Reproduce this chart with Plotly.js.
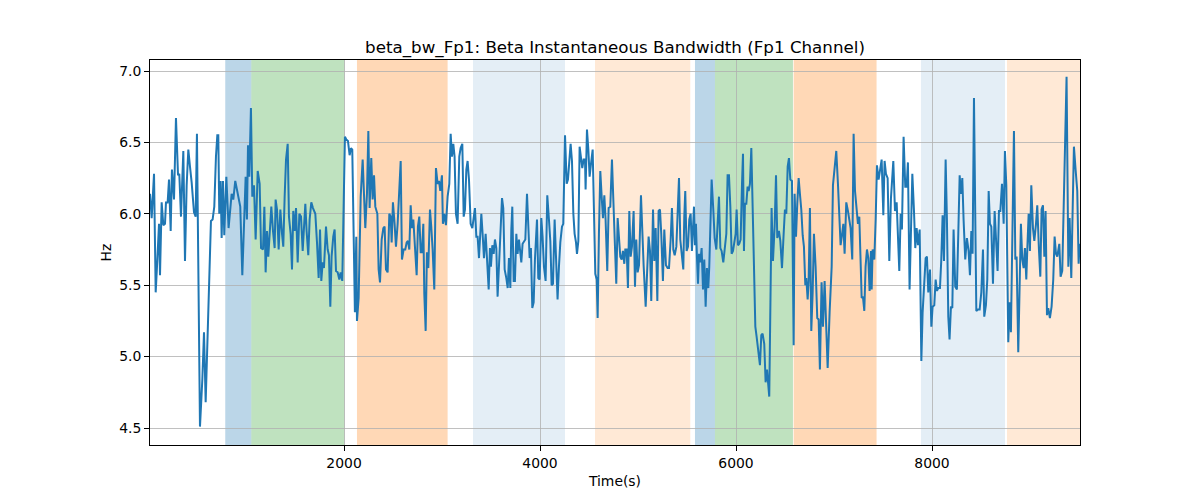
<!DOCTYPE html>
<html>
<head>
<meta charset="utf-8">
<script src="https://cdn.plot.ly/plotly-3.0.1.min.js"></script>
<style>
  body { margin: 0; background: #fff; }
  #plot { width: 1200px; height: 500px; }
</style>
</head>
<body>
<div id="plot"></div>
<script>
// time (s) and beta bandwidth (Hz)
const timeSec = [
  20, 37, 61, 78, 95, 112, 122, 139, 156, 173, 183, 200, 214, 231, 244, 265, 285, 306, 319, 336,
  360, 377, 394, 411, 428, 445, 469, 486, 499, 513, 530, 554, 571, 588, 615, 642, 659, 676, 693, 707,
  717, 727, 741, 751, 765, 778, 799, 822, 853, 870, 890, 921, 941, 962, 982, 996, 1009, 1020, 1033, 1050,
  1064, 1081, 1098, 1119, 1139, 1153, 1173, 1187, 1200, 1214, 1227, 1241, 1258, 1275, 1292, 1302, 1316, 1333, 1350, 1367,
  1380, 1394, 1408, 1425, 1438, 1455, 1469, 1482, 1496, 1510, 1527, 1544, 1561, 1578, 1591, 1605, 1618, 1635, 1649, 1666,
  1683, 1707, 1724, 1741, 1755, 1768, 1782, 1795, 1816, 1833, 1846, 1860, 1873, 1890, 1904, 1918, 1935, 1952, 1965, 1982,
  2009, 2023, 2040, 2057, 2071, 2084, 2111, 2125, 2132, 2149, 2170, 2190, 2217, 2234, 2248, 2261, 2278, 2292, 2306, 2319,
  2340, 2353, 2367, 2384, 2401, 2414, 2428, 2445, 2462, 2476, 2486, 2499, 2516, 2530, 2547, 2564, 2578, 2591, 2608, 2625,
  2639, 2652, 2666, 2680, 2693, 2707, 2724, 2741, 2754, 2768, 2782, 2795, 2809, 2819, 2833, 2846, 2860, 2877, 2890, 2904,
  2921, 2938, 2955, 2969, 2982, 2999, 3009, 3023, 3040, 3057, 3074, 3088, 3101, 3115, 3128, 3142, 3159, 3176, 3190, 3207,
  3221, 3234, 3248, 3261, 3275, 3292, 3309, 3323, 3336, 3350, 3363, 3377, 3387, 3401, 3414, 3428, 3445, 3462, 3476, 3489,
  3499, 3513, 3527, 3540, 3554, 3567, 3584, 3598, 3612, 3625, 3639, 3656, 3670, 3683, 3697, 3707, 3717, 3731, 3744, 3758,
  3771, 3785, 3799, 3809, 3822, 3836, 3850, 3867, 3880, 3894, 3907, 3921, 3935, 3948, 3969, 3982, 3996, 4013, 4026, 4040,
  4057, 4074, 4091, 4105, 4118, 4132, 4149, 4162, 4179, 4193, 4207, 4224, 4237, 4255, 4272, 4285, 4299, 4312, 4326, 4340,
  4353, 4367, 4377, 4391, 4404, 4418, 4431, 4445, 4459, 4465, 4479, 4493, 4506, 4520, 4537, 4550, 4564, 4578, 4588, 4601,
  4615, 4629, 4642, 4656, 4669, 4686, 4700, 4717, 4734, 4748, 4761, 4778, 4792, 4806, 4819, 4833, 4846, 4860, 4870, 4884,
  4897, 4911, 4925, 4938, 4955, 4969, 4982, 4996, 5010, 5030, 5044, 5057, 5078, 5095, 5108, 5122, 5135, 5153, 5166, 5180,
  5197, 5210, 5224, 5237, 5254, 5268, 5285, 5302, 5316, 5333, 5346, 5360, 5374, 5391, 5404, 5418, 5431, 5448, 5462, 5472,
  5482, 5496, 5510, 5523, 5537, 5550, 5561, 5571, 5581, 5591, 5601, 5612, 5622, 5635, 5649, 5663, 5676, 5690, 5703, 5717,
  5727, 5738, 5751, 5768, 5782, 5799, 5812, 5826, 5840, 5853, 5870, 5887, 5901, 5914, 5928, 5942, 5955, 5969, 5982, 5996,
  6006, 6020, 6033, 6047, 6061, 6071, 6081, 6091, 6105, 6118, 6129, 6142, 6156, 6197, 6210, 6227, 6244, 6258, 6271, 6288,
  6302, 6316, 6329, 6339, 6363, 6377, 6394, 6408, 6421, 6438, 6452, 6469, 6486, 6499, 6513, 6527, 6540, 6554, 6571, 6588,
  6598, 6612, 6625, 6639, 6652, 6666, 6680, 6693, 6707, 6717, 6731, 6741, 6754, 6768, 6782, 6795, 6812, 6829, 6843, 6856,
  6873, 6887, 6904, 6921, 6935, 6955, 6976, 6989, 7006, 7023, 7040, 7054, 7067, 7081, 7095, 7108, 7125, 7142, 7156, 7169,
  7186, 7200, 7214, 7231, 7244, 7258, 7271, 7282, 7295, 7309, 7322, 7336, 7350, 7363, 7377, 7384, 7394, 7411, 7425, 7438,
  7455, 7469, 7486, 7503, 7516, 7530, 7547, 7564, 7581, 7605, 7622, 7639, 7652, 7666, 7680, 7693, 7710, 7727, 7741, 7754,
  7771, 7785, 7799, 7816, 7829, 7843, 7857, 7874, 7891, 7904, 7918, 7935, 7948, 7962, 7979, 7993, 8006, 8023, 8037, 8050,
  8064, 8081, 8094, 8108, 8122, 8139, 8152, 8166, 8179, 8193, 8207, 8220, 8237, 8254, 8268, 8282, 8295, 8309, 8322, 8339,
  8356, 8373, 8387, 8401, 8414, 8428, 8452, 8469, 8486, 8503, 8520, 8533, 8550, 8564, 8578, 8591, 8605, 8622, 8639, 8656,
  8669, 8683, 8697, 8714, 8731, 8744, 8758, 8778, 8792, 8805, 8822, 8836, 8850, 8863, 8880, 8894, 8907, 8921, 8935, 8948,
  8962, 8972, 8986, 8999, 9013, 9030, 9044, 9061, 9074, 9091, 9105, 9118, 9132, 9146, 9159, 9173, 9186, 9203, 9220, 9237,
  9251, 9265, 9278, 9299, 9312, 9329, 9373, 9391, 9404, 9421, 9435, 9448, 9465, 9482, 9496, 9506
];

const betaBw = [
  6.14, 5.97, 6.28, 5.45, 5.68, 5.93, 5.57, 6.08, 5.92, 5.93, 6.08, 6.08, 6.24, 5.88, 6.31, 6.10, 6.67, 6.27, 6.28, 5.98,
  6.44, 5.67, 6.20, 6.45, 6.33, 6.22, 6.01, 5.98, 6.56, 5.56, 4.51, 4.84, 5.17, 4.68, 5.26, 5.95, 5.96, 6.05, 6.40, 6.55,
  6.55, 6.00, 6.23, 5.83, 6.23, 5.85, 6.26, 5.90, 6.14, 6.10, 6.23, 6.12, 6.05, 5.57, 6.03, 6.26, 5.96, 6.48, 6.26, 6.74,
  6.12, 6.20, 5.82, 6.30, 6.21, 5.76, 5.75, 6.05, 5.59, 5.88, 5.70, 5.89, 6.05, 5.88, 5.76, 6.10, 6.03, 5.75, 6.03, 5.86,
  5.77, 6.12, 6.38, 6.49, 5.98, 5.86, 5.61, 6.02, 5.88, 6.04, 5.66, 6.00, 5.98, 5.74, 5.91, 6.07, 5.88, 5.71, 5.96, 6.08,
  6.04, 6.00, 5.80, 5.55, 5.89, 5.53, 5.66, 5.62, 5.91, 5.75, 5.71, 5.35, 5.70, 5.84, 5.89, 5.60, 5.59, 5.54, 5.59, 5.53,
  6.54, 6.52, 6.51, 6.41, 6.46, 6.45, 5.31, 5.84, 5.25, 5.41, 6.12, 6.38, 5.90, 6.14, 6.58, 6.04, 6.39, 6.10, 6.27, 6.05,
  6.00, 5.61, 5.52, 5.82, 5.90, 5.91, 5.61, 5.59, 6.00, 5.98, 5.80, 6.08, 5.93, 5.77, 5.93, 6.14, 6.37, 5.68, 5.75, 5.75,
  5.80, 5.81, 5.75, 6.06, 5.90, 5.96, 5.77, 5.57, 5.91, 5.98, 5.73, 5.73, 5.93, 5.44, 5.18, 5.73, 5.62, 6.03, 5.91, 5.75,
  5.47, 6.32, 6.21, 6.23, 6.16, 6.27, 5.93, 6.00, 5.92, 6.12, 6.21, 6.56, 6.40, 6.49, 6.40, 6.00, 5.93, 6.40, 6.46, 6.49,
  5.98, 6.03, 6.31, 6.37, 6.24, 5.93, 5.90, 5.98, 6.04, 5.84, 5.84, 5.69, 5.84, 6.00, 5.86, 5.69, 5.86, 5.68, 5.47, 5.76,
  5.63, 5.78, 5.72, 5.82, 5.76, 5.42, 5.72, 5.92, 6.11, 6.04, 5.61, 5.55, 5.48, 5.69, 5.48, 5.89, 6.05, 5.53, 5.53, 5.86,
  5.72, 5.82, 5.74, 5.66, 5.79, 5.81, 5.82, 6.14, 5.96, 5.69, 5.76, 5.34, 5.38, 5.68, 5.96, 5.55, 5.54, 5.97, 5.84, 5.63,
  5.53, 6.13, 5.96, 5.81, 5.50, 5.51, 5.96, 5.70, 5.40, 5.63, 5.80, 5.91, 5.93, 6.55, 6.21, 6.24, 6.38, 6.49, 6.37, 6.00,
  5.86, 5.80, 5.72, 5.81, 6.47, 6.40, 6.32, 6.38, 6.38, 6.17, 6.59, 6.45, 6.26, 6.35, 6.45, 6.03, 5.58, 5.54, 5.27, 5.86,
  6.30, 6.12, 5.97, 6.13, 5.96, 5.60, 6.04, 6.05, 6.38, 6.10, 5.77, 5.51, 5.97, 5.81, 5.70, 5.68, 5.74, 5.65, 5.75, 5.75,
  5.48, 6.02, 5.70, 5.77, 6.02, 5.49, 5.82, 5.59, 5.64, 6.13, 5.82, 5.64, 5.35, 5.63, 5.84, 5.74, 5.39, 6.03, 5.67, 5.90,
  5.39, 6.02, 6.03, 5.86, 5.53, 5.89, 5.64, 5.62, 5.62, 5.82, 6.04, 5.75, 5.71, 5.77, 6.00, 6.25, 5.82, 5.67, 5.61, 5.98,
  6.16, 5.74, 5.77, 5.96, 6.00, 5.74, 5.98, 6.05, 5.78, 5.93, 5.70, 5.51, 5.72, 5.66, 5.76, 5.47, 5.68, 5.35, 5.62, 5.48,
  5.63, 5.96, 6.24, 6.03, 5.83, 5.75, 5.93, 6.12, 5.76, 5.74, 5.66, 5.77, 5.86, 6.27, 6.27, 6.05, 5.72, 5.74, 5.81, 5.86,
  6.03, 5.78, 5.79, 5.82, 6.21, 6.42, 5.74, 6.07, 6.07, 6.19, 6.16, 6.21, 6.46, 5.21, 5.14, 5.05, 4.94, 5.15, 5.16, 5.09,
  4.82, 4.91, 4.81, 4.72, 6.04, 5.67, 5.91, 6.27, 5.83, 5.88, 5.81, 5.62, 5.86, 6.03, 6.00, 6.33, 6.39, 6.24, 6.23, 5.08,
  6.14, 5.84, 6.07, 6.25, 6.14, 6.03, 5.85, 5.77, 5.50, 5.55, 5.40, 5.53, 6.04, 5.18, 5.45, 5.86, 5.63, 5.27, 5.26, 4.91,
  5.52, 5.21, 5.53, 5.18, 4.92, 5.31, 5.63, 6.20, 6.35, 6.44, 6.21, 5.99, 5.78, 5.85, 5.93, 5.72, 6.08, 6.02, 5.96, 5.90,
  5.68, 6.56, 6.16, 6.05, 5.93, 5.98, 5.72, 5.41, 5.42, 5.32, 5.63, 5.75, 5.69, 5.46, 5.74, 5.47, 5.75, 5.68, 5.96, 6.34,
  6.24, 6.31, 6.38, 5.99, 6.37, 6.28, 6.25, 5.67, 6.11, 6.37, 6.02, 6.08, 5.84, 5.60, 6.00, 5.89, 6.54, 6.19, 6.19, 6.36,
  5.47, 5.82, 6.28, 6.02, 5.76, 5.90, 5.78, 5.89, 4.97, 5.31, 5.50, 5.69, 5.70, 5.45, 5.61, 5.21, 5.35, 5.36, 5.54, 5.46,
  5.48, 5.48, 5.67, 5.99, 5.67, 6.38, 5.96, 5.28, 5.12, 5.35, 5.34, 5.89, 5.49, 5.47, 5.86, 6.27, 6.14, 6.25, 5.96, 5.68,
  5.83, 5.74, 5.57, 5.88, 5.72, 6.81, 5.32, 5.33, 5.33, 5.45, 5.75, 5.28, 5.36, 5.54, 6.16, 5.93, 5.91, 5.51, 6.02, 5.71,
  5.60, 6.02, 6.02, 6.21, 5.93, 6.44, 6.20, 5.10, 5.38, 5.17, 6.06, 6.58, 5.68, 5.70, 5.03, 5.52, 5.93, 5.68, 5.62, 5.76,
  5.54, 5.75, 6.00, 5.74, 6.20, 5.90, 5.81, 5.93, 6.06, 5.75, 5.56, 6.03, 6.06, 5.70, 6.02, 5.29, 5.34, 5.27, 5.35, 5.54,
  5.84, 5.72, 5.70, 5.79, 5.56, 5.60, 6.96, 5.63, 5.97, 5.55, 5.98, 6.47, 6.31, 6.16, 5.65, 5.79
];

// shaded epochs: [start, end] in seconds, with their fill
const spanStart = [788, 1054, 2132, 3316, 4561, 5581, 5785, 6588, 7887, 8765];
const spanEnd = [1054, 2005, 3057, 4255, 5533, 5785, 6581, 7434, 8745, 9510];
const spanFill = [
  'rgba(31,119,180,0.3)', 'rgba(44,160,44,0.3)', 'rgba(255,127,14,0.3)',
  'rgba(31,119,180,0.12)', 'rgba(255,127,14,0.17)',
  'rgba(31,119,180,0.3)', 'rgba(44,160,44,0.3)', 'rgba(255,127,14,0.3)',
  'rgba(31,119,180,0.12)', 'rgba(255,127,14,0.17)'
];

const yTicks = [4.5, 5.0, 5.5, 6.0, 6.5, 7.0];
const xTicks = [2000, 4000, 6000, 8000];

const shapes = spanStart.map((s, i) => ({
  type: 'rect',
  xref: 'x',
  yref: 'paper',
  x0: s,
  x1: spanEnd[i],
  y0: 0,
  y1: 1,
  fillcolor: spanFill[i],
  line: { width: 0 },
  layer: 'below',
}));

const trace = {
  x: timeSec,
  y: betaBw,
  type: 'scatter',
  mode: 'lines',
  line: { color: '#1f77b4', width: 2 },
  hoverinfo: 'skip',
};

const font = { family: 'DejaVu Sans, sans-serif', size: 13.9, color: '#000' };

const layout = {
  width: 1200,
  height: 500,
  margin: { l: 150, r: 120, t: 60, b: 55 },
  paper_bgcolor: '#fff',
  plot_bgcolor: 'rgba(0,0,0,0)',
  showlegend: false,
  font,
  title: {
    text: 'beta_bw_Fp1: Beta Instantaneous Bandwidth (Fp1 Channel)',
    font: { family: font.family, size: 16.7, color: '#000' },
    x: 0.5,
    xref: 'paper',
    y: 1,
    yref: 'paper',
    yanchor: 'bottom',
    pad: { b: 7 },
  },
  xaxis: {
    range: [20, 9510],
    tickvals: xTicks,
    ticks: 'outside',
    ticklen: 5,
    tickcolor: '#000',
    showline: true,
    mirror: true,
    linecolor: '#000',
    linewidth: 1,
    showgrid: true,
    gridcolor: '#b0b0b0',
    gridwidth: 0.8,
    zeroline: false,
    title: { text: 'Time(s)', font, standoff: 6 },
  },
  yaxis: {
    range: [4.381, 7.077],
    tickvals: yTicks,
    tickformat: '.1f',
    ticks: 'outside',
    ticklen: 5,
    tickcolor: '#000',
    showline: true,
    mirror: true,
    linecolor: '#000',
    linewidth: 1,
    showgrid: true,
    gridcolor: '#b0b0b0',
    gridwidth: 0.8,
    zeroline: false,
    title: { text: 'Hz', font, standoff: 4 },
  },
  shapes,
};

Plotly.newPlot('plot', [trace], layout, { displayModeBar: false, staticPlot: true });
</script>
</body>
</html>
